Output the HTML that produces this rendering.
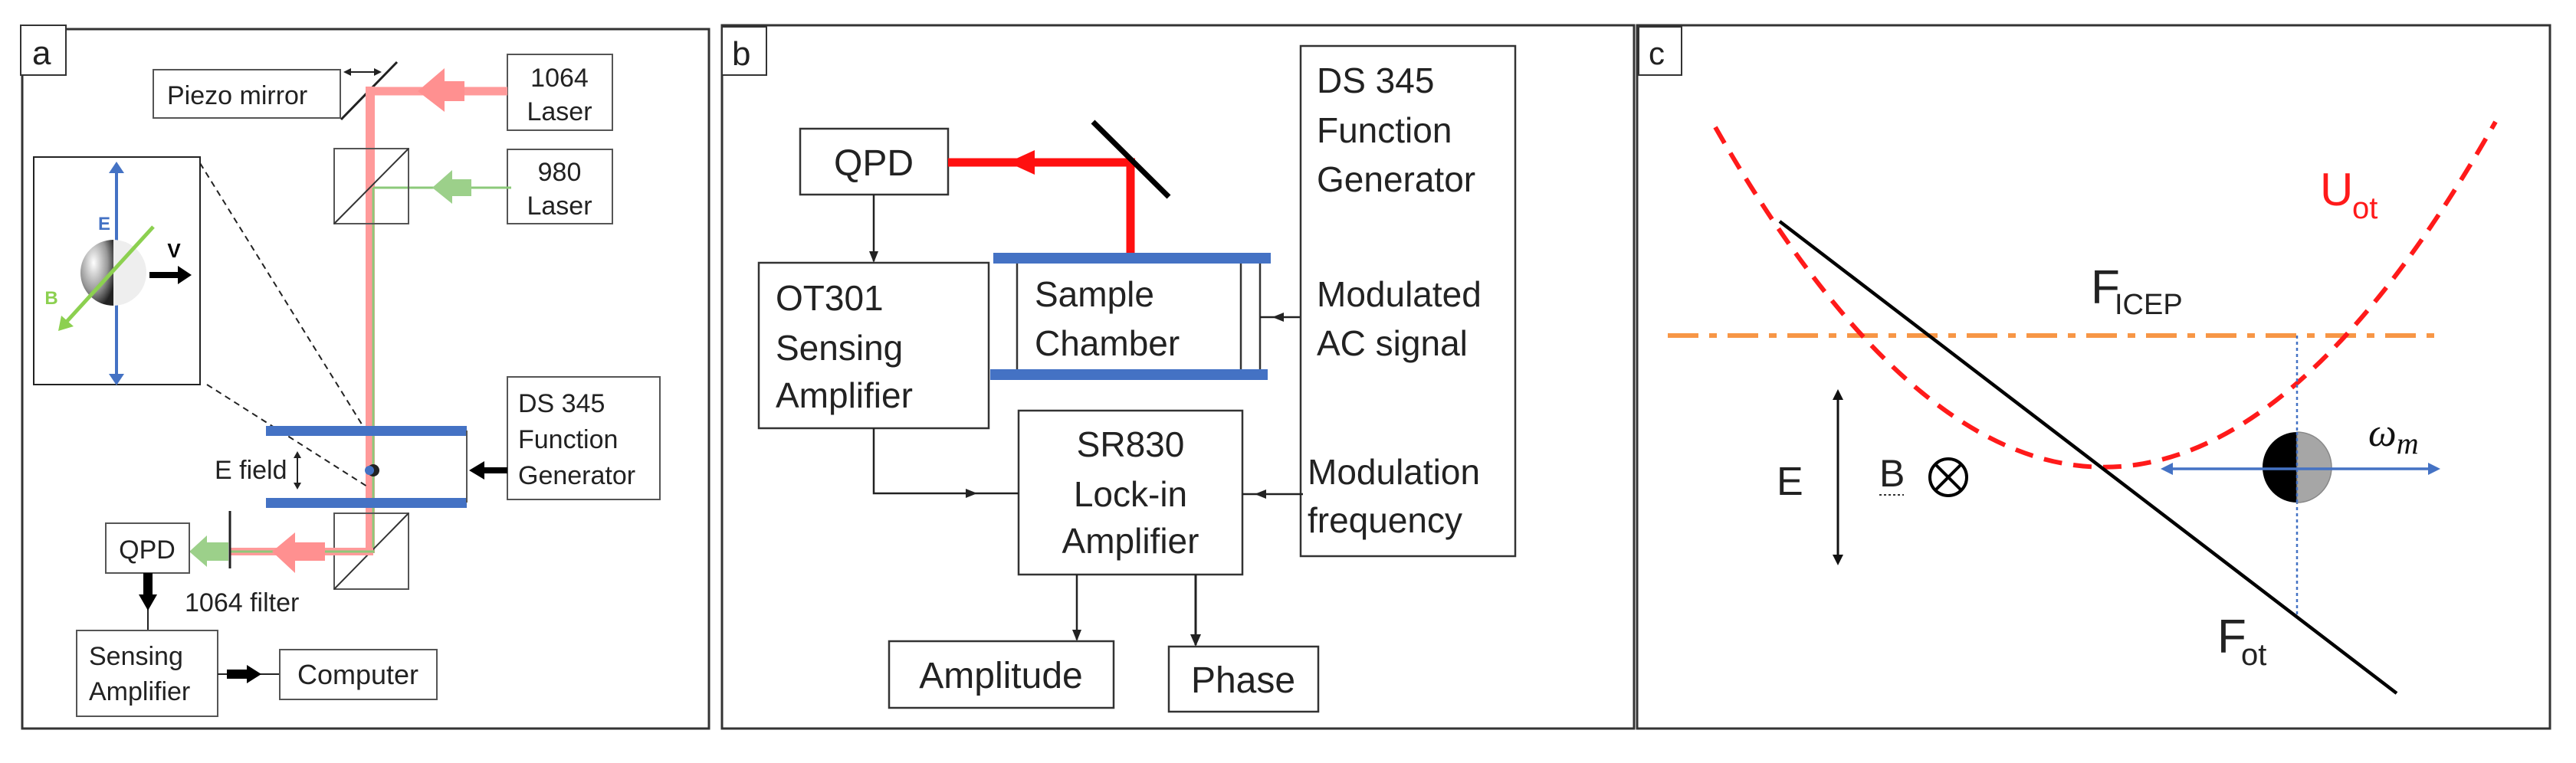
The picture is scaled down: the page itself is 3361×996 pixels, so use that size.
<!DOCTYPE html>
<html><head><meta charset="utf-8"><style>
html,body{margin:0;padding:0;background:#fff;}
svg{display:block;}
text{font-family:"Liberation Sans",sans-serif;fill:#222;}
</style></head><body>
<svg width="3361" height="996" viewBox="0 0 3361 996" xmlns="http://www.w3.org/2000/svg">
<rect width="3361" height="996" fill="#fff"/>
<!-- ===== Panel a ===== -->
<rect x="29" y="38" width="896" height="913" fill="none" stroke="#333" stroke-width="3"/>
<rect x="27" y="33" width="59" height="65" fill="#fff" stroke="#333" stroke-width="2"/>
<text x="42" y="84" font-size="44">a</text>

<rect x="200" y="91" width="244" height="63" fill="none" stroke="#555" stroke-width="2"/>
<text x="218" y="136" font-size="34">Piezo mirror</text>
<line x1="445" y1="156" x2="518" y2="81" stroke="#222" stroke-width="3"/>
<line x1="452" y1="94" x2="494" y2="94" stroke="#222" stroke-width="2"/>
<polygon points="448,94 458,89 458,99" fill="#222"/><polygon points="498,94 488,89 488,99" fill="#222"/>

<rect x="662" y="71" width="137" height="99" fill="none" stroke="#555" stroke-width="2"/>
<text x="730" y="113" font-size="34" text-anchor="middle">1064</text>
<text x="730" y="157" font-size="34" text-anchor="middle">Laser</text>
<rect x="662" y="195" width="137" height="97" fill="none" stroke="#555" stroke-width="2"/>
<text x="730" y="236" font-size="34" text-anchor="middle">980</text>
<text x="730" y="280" font-size="34" text-anchor="middle">Laser</text>

<!-- red beam -->
<line x1="477" y1="119" x2="662" y2="119" stroke="#ff9a9a" stroke-width="11"/>
<line x1="483" y1="113" x2="483" y2="722" stroke="#ff9a9a" stroke-width="12"/>
<polygon points="545,119 580,89 580,106 606,106 606,132 580,132 580,146" fill="#ff9090"/>
<!-- green beam -->
<line x1="487" y1="245" x2="667" y2="245" stroke="#8cc97a" stroke-width="3"/>
<line x1="487" y1="245" x2="487" y2="722" stroke="#8cc97a" stroke-width="3"/>
<polygon points="564,245 590,222 590,234 615,234 615,256 590,256 590,266" fill="#9cd08a"/>

<!-- BS1 -->
<rect x="436" y="194" width="97" height="98" fill="none" stroke="#555" stroke-width="2"/>
<line x1="436" y1="292" x2="533" y2="194" stroke="#333" stroke-width="2"/>

<!-- inset -->
<rect x="44" y="205" width="217" height="297" fill="#fff" stroke="#222" stroke-width="2"/>
<line x1="152" y1="222" x2="152" y2="493" stroke="#4472c4" stroke-width="4"/>
<polygon points="152,211 142,226 162,226" fill="#4472c4"/><polygon points="152,503 142,488 162,488" fill="#4472c4"/>
<defs><radialGradient id="sg" cx="0.4" cy="0.35" r="0.7"><stop offset="0" stop-color="#fff"/><stop offset="0.6" stop-color="#999"/><stop offset="1" stop-color="#222"/></radialGradient></defs>
<path d="M148,313 A43,43 0 0 0 148,399 Z" fill="url(#sg)"/>
<path d="M148,313 A43,43 0 0 1 148,399 Z" fill="#eee"/>
<line x1="200" y1="296" x2="85" y2="422" stroke="#8cd050" stroke-width="5"/>
<polygon points="76,432 80,412 96,426" fill="#8cd050"/>
<line x1="195" y1="359" x2="235" y2="359" stroke="#000" stroke-width="8"/>
<polygon points="250,359 232,347 232,371" fill="#000"/>
<text x="136" y="300" font-size="24" fill="#4472c4" font-weight="bold" text-anchor="middle" style="fill:#4472c4">E</text>
<text x="67" y="397" font-size="24" font-weight="bold" text-anchor="middle" style="fill:#8cd050">B</text>
<text x="227" y="336" font-size="26" font-weight="bold" text-anchor="middle" style="fill:#000">V</text>
<line x1="261" y1="213" x2="479" y2="565" stroke="#222" stroke-width="2" stroke-dasharray="8,6"/>
<line x1="270" y1="502" x2="479" y2="635" stroke="#222" stroke-width="2" stroke-dasharray="8,6"/>

<!-- plates -->
<rect x="347" y="556" width="262" height="13" fill="#4472c4"/>
<rect x="347" y="650" width="262" height="13" fill="#4472c4"/>
<line x1="609" y1="562" x2="609" y2="656" stroke="#555" stroke-width="2"/>
<circle cx="487" cy="614" r="8" fill="#222"/><circle cx="482" cy="614" r="6" fill="#4472c4"/>
<text x="280" y="625" font-size="34">E field</text>
<line x1="388" y1="594" x2="388" y2="634" stroke="#222" stroke-width="2"/>
<polygon points="388,589 383,598 393,598" fill="#222"/><polygon points="388,639 383,630 393,630" fill="#222"/>

<rect x="662" y="492" width="199" height="160" fill="none" stroke="#555" stroke-width="2"/>
<text x="676" y="538" font-size="34">DS 345</text>
<text x="676" y="585" font-size="34">Function</text>
<text x="676" y="632" font-size="34">Generator</text>
<line x1="630" y1="614" x2="662" y2="614" stroke="#000" stroke-width="8"/>
<polygon points="612,614 632,602 632,626" fill="#000"/>

<!-- BS2 -->
<rect x="436" y="670" width="97" height="99" fill="none" stroke="#555" stroke-width="2"/>
<line x1="436" y1="769" x2="533" y2="670" stroke="#333" stroke-width="2"/>
<line x1="300" y1="720" x2="487" y2="720" stroke="#ff9a9a" stroke-width="10"/>
<line x1="300" y1="720" x2="487" y2="720" stroke="#8cc97a" stroke-width="3"/>
<polygon points="355,720 385,695 385,708 424,708 424,732 385,732 385,748" fill="#ff9090"/>
<line x1="300" y1="667" x2="300" y2="742" stroke="#222" stroke-width="3"/>
<polygon points="247,720 270,699 270,708 298,708 298,732 270,732 270,740" fill="#9cd08a"/>
<rect x="138" y="683" width="109" height="65" fill="none" stroke="#555" stroke-width="2"/>
<text x="192" y="729" font-size="34" text-anchor="middle">QPD</text>
<text x="241" y="798" font-size="34">1064 filter</text>
<line x1="193" y1="748" x2="193" y2="823" stroke="#222" stroke-width="2"/>
<rect x="187" y="748" width="12" height="30" fill="#000"/>
<polygon points="193,797 181,776 205,776" fill="#000"/>
<rect x="100" y="823" width="184" height="112" fill="none" stroke="#555" stroke-width="2"/>
<text x="116" y="868" font-size="34">Sensing</text>
<text x="116" y="914" font-size="34">Amplifier</text>
<line x1="284" y1="880" x2="365" y2="880" stroke="#222" stroke-width="2"/>
<rect x="296" y="874" width="30" height="12" fill="#000"/>
<polygon points="341,880 322,868 322,892" fill="#000"/>
<rect x="365" y="848" width="205" height="65" fill="none" stroke="#555" stroke-width="2"/>
<text x="467" y="893" font-size="36" text-anchor="middle">Computer</text>

<!-- ===== Panel b ===== -->
<rect x="942" y="33" width="1190" height="918" fill="none" stroke="#333" stroke-width="3"/>
<rect x="942" y="35" width="58" height="63" fill="#fff" stroke="#333" stroke-width="2"/>
<text x="955" y="85" font-size="44">b</text>

<rect x="1044" y="168" width="193" height="86" fill="none" stroke="#333" stroke-width="2.5"/>
<text x="1140" y="229" font-size="48" text-anchor="middle">QPD</text>
<line x1="1237" y1="212" x2="1481" y2="212" stroke="#ff1010" stroke-width="11"/>
<line x1="1475" y1="207" x2="1475" y2="331" stroke="#ff1010" stroke-width="11"/>
<polygon points="1315,212 1350,196 1350,228" fill="#ff1010"/>
<line x1="1426" y1="159" x2="1525" y2="257" stroke="#000" stroke-width="7"/>

<rect x="1296" y="330" width="362" height="14" fill="#4472c4"/>
<rect x="1292" y="482" width="362" height="14" fill="#4472c4"/>
<line x1="1327" y1="344" x2="1327" y2="482" stroke="#333" stroke-width="2.5"/>
<line x1="1619" y1="344" x2="1619" y2="482" stroke="#333" stroke-width="2.5"/>
<line x1="1644" y1="344" x2="1644" y2="482" stroke="#333" stroke-width="2.5"/>
<text x="1350" y="400" font-size="46">Sample</text>
<text x="1350" y="464" font-size="46">Chamber</text>
<line x1="1644" y1="414" x2="1697" y2="414" stroke="#222" stroke-width="2.5"/>
<polygon points="1660,414 1675,408 1675,420" fill="#222"/>

<rect x="990" y="343" width="300" height="216" fill="none" stroke="#333" stroke-width="2.5"/>
<text x="1012" y="405" font-size="46">OT301</text>
<text x="1012" y="470" font-size="46">Sensing</text>
<text x="1012" y="532" font-size="46">Amplifier</text>
<line x1="1140" y1="254" x2="1140" y2="341" stroke="#222" stroke-width="2.5"/>
<polygon points="1140,343 1134,328 1146,328" fill="#222"/>

<rect x="1697" y="60" width="280" height="666" fill="none" stroke="#333" stroke-width="2.5"/>
<text x="1718" y="121" font-size="46">DS 345</text>
<text x="1718" y="186" font-size="46">Function</text>
<text x="1718" y="250" font-size="46">Generator</text>
<text x="1718" y="400" font-size="46">Modulated</text>
<text x="1718" y="464" font-size="46">AC signal</text>
<text x="1706" y="632" font-size="46">Modulation</text>
<text x="1706" y="695" font-size="46">frequency</text>

<rect x="1329" y="536" width="292" height="214" fill="none" stroke="#333" stroke-width="2.5"/>
<text x="1475" y="596" font-size="46" text-anchor="middle">SR830</text>
<text x="1475" y="661" font-size="46" text-anchor="middle">Lock-in</text>
<text x="1475" y="722" font-size="46" text-anchor="middle">Amplifier</text>
<polyline points="1140,559 1140,644 1329,644" fill="none" stroke="#222" stroke-width="2.5"/>
<polygon points="1275,644 1260,638 1260,650" fill="#222"/>
<line x1="1621" y1="645" x2="1700" y2="645" stroke="#222" stroke-width="2.5"/>
<polygon points="1637,645 1652,639 1652,651" fill="#222"/>

<rect x="1160" y="837" width="293" height="87" fill="none" stroke="#333" stroke-width="2.5"/>
<text x="1306" y="898" font-size="48" text-anchor="middle">Amplitude</text>
<rect x="1525" y="844" width="195" height="85" fill="none" stroke="#333" stroke-width="2.5"/>
<text x="1622" y="904" font-size="48" text-anchor="middle">Phase</text>
<line x1="1405" y1="750" x2="1405" y2="835" stroke="#222" stroke-width="2.5"/>
<polygon points="1405,837 1399,822 1411,822" fill="#222"/>
<line x1="1560" y1="750" x2="1560" y2="842" stroke="#222" stroke-width="3"/>
<polygon points="1560,844 1553,828 1567,828" fill="#222"/>

<!-- ===== Panel c ===== -->
<rect x="2136" y="33" width="1191" height="918" fill="none" stroke="#333" stroke-width="3"/>
<rect x="2138" y="35" width="56" height="63" fill="#fff" stroke="#333" stroke-width="2"/>
<text x="2151" y="84" font-size="42">c</text>

<line x1="2176" y1="438" x2="3182" y2="438" stroke="#f79646" stroke-width="6" stroke-dasharray="40,14,10,14"/>
<path d="M2238,166 Q2747,1057 3256,159" fill="none" stroke="#ff1a1a" stroke-width="6" stroke-dasharray="24,15"/>
<line x1="2322" y1="289" x2="3127" y2="905" stroke="#000" stroke-width="4.5"/>
<line x1="2997" y1="438" x2="2997" y2="802" stroke="#4472c4" stroke-width="2.5" stroke-dasharray="4,4"/>

<path d="M2997,564 A45,46 0 0 0 2997,656 Z" fill="#000"/>
<path d="M2997,564 A45,46 0 0 1 2997,656 Z" fill="#a6a6a6" stroke="#888" stroke-width="1.5"/>
<line x1="2828" y1="612" x2="3175" y2="612" stroke="#4472c4" stroke-width="3.5"/>
<polygon points="2819,612 2835,604 2835,620" fill="#4472c4"/>
<polygon points="3184,612 3168,604 3168,620" fill="#4472c4"/>
<line x1="2997" y1="564" x2="2997" y2="656" stroke="#4472c4" stroke-width="2.5" stroke-dasharray="4,4"/>

<text x="2728" y="396" font-size="62">F</text><text x="2759" y="410" font-size="38">ICEP</text>
<text x="3027" y="268" font-size="60" style="fill:#ff1a1a">U</text><text x="3069" y="285" font-size="40" style="fill:#ff1a1a">ot</text>
<text x="2893" y="852" font-size="62">F</text><text x="2924" y="868" font-size="40">ot</text>
<text x="3090" y="582" font-size="52" font-style="italic" font-family="Liberation Serif, serif" style="font-family:'Liberation Serif',serif;fill:#111">ω<tspan font-size="40" dy="10">m</tspan></text>

<line x1="2398" y1="517" x2="2398" y2="729" stroke="#111" stroke-width="3"/>
<polygon points="2398,508 2391,522 2405,522" fill="#111"/><polygon points="2398,738 2391,724 2405,724" fill="#111"/>
<text x="2318" y="646" font-size="52">E</text>
<text x="2452" y="635" font-size="50">B</text>
<line x1="2452" y1="646" x2="2484" y2="646" stroke="#333" stroke-width="2" stroke-dasharray="3,3"/>
<circle cx="2542" cy="623" r="24" fill="none" stroke="#000" stroke-width="4"/>
<line x1="2525" y1="606" x2="2559" y2="640" stroke="#000" stroke-width="4"/>
<line x1="2559" y1="606" x2="2525" y2="640" stroke="#000" stroke-width="4"/>
</svg>
</body></html>
